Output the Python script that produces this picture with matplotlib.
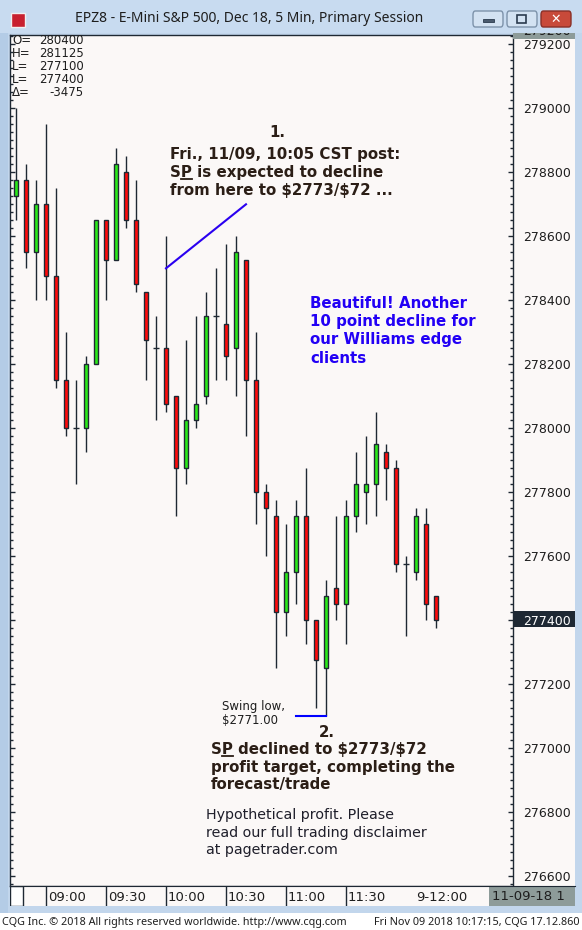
import numpy as np
import matplotlib.pyplot as plt
from matplotlib.patches import Rectangle, FancyBboxPatch
from matplotlib.lines import Line2D
from matplotlib.ticker import MultipleLocator

# E-Mini S&P 500 Dec 18, 5 min bars (price x 100)
opens  = [278725, 278775, 278550, 278700, 278475, 278150, 278000, 278000, 278200, 278650,
          278525, 278800, 278650, 278425, 278250, 278250, 278100, 277875, 278025, 278100,
          278350, 278325, 278250, 278525, 278150, 277800, 277725, 277425, 277550, 277725,
          277400, 277250, 277500, 277450, 277725, 277800, 277825, 277925, 277875, 277575,
          277550, 277700, 277475]
highs  = [279000, 278825, 278775, 278950, 278750, 278300, 278150, 278225, 278650, 278650,
          278875, 278850, 278775, 278425, 278350, 278600, 278100, 278275, 278350, 278425,
          278500, 278575, 278600, 278525, 278300, 277825, 277775, 277700, 277775, 277875,
          277400, 277525, 277725, 277775, 277925, 277975, 278050, 277950, 277900, 277600,
          277750, 277750, 277475]
lows   = [278650, 278500, 278400, 278400, 278125, 277975, 277825, 277925, 278200, 278400,
          278525, 278625, 278425, 278150, 278025, 278050, 277725, 277825, 278000, 278075,
          278150, 278150, 278100, 277975, 277700, 277600, 277250, 277350, 277450, 277325,
          277125, 277100, 277400, 277325, 277675, 277700, 277725, 277775, 277550, 277350,
          277525, 277400, 277375]
closes = [278775, 278550, 278700, 278475, 278150, 278000, 278000, 278200, 278650, 278525,
          278825, 278650, 278450, 278275, 278250, 278075, 277875, 278025, 278075, 278350,
          278350, 278225, 278550, 278150, 277800, 277750, 277425, 277550, 277725, 277400,
          277275, 277475, 277450, 277725, 277825, 277825, 277950, 277875, 277575, 277575,
          277725, 277450, 277400]

price_ticks = list(range(276600, 279201, 200))
time_ticks = [3, 9, 15, 21, 27, 33]
time_labels = ["09:00", "09:30", "10:00", "10:30", "11:00", "11:30"]
day_tick, day_label = 39, "9-12:00"

stat_names = ["O=", "H=", "L=", "L=", "Δ="]
stat_values = ["280400", "281125", "277100", "277400", "-3475"]

last_price = 277400
forecast_line = ([15, 23], [278500, 278700])   # "expected to decline from here"
swing_line = ([28, 31], [277100, 277100])      # swing low 2771.00

W, H = 582, 930
BG = '#FBF8F7'
DARK = '#1E2833'
FRAME = '#C2D6EC'


def fx(x):
    return x / W


def fy(y):
    return 1 - y / H


fig = plt.figure(figsize=(W / 100, H / 100), dpi=100)
fig.patch.set_facecolor(FRAME)

# window chrome
fig.add_artist(Rectangle((0, 0), 1, fy(913), transform=fig.transFigure,
                         facecolor='white', edgecolor='none', zorder=-2))
fig.add_artist(Rectangle((fx(0), fy(33)), 1, fy(0) - fy(33), transform=fig.transFigure,
                         facecolor='#C8DBF0', edgecolor='none', zorder=-2))
fig.add_artist(Rectangle((fx(0), fy(913)), fx(8), fy(33) - fy(913), transform=fig.transFigure,
                         facecolor='#B4CCE6', edgecolor='none', zorder=-2))
fig.add_artist(Rectangle((fx(513), fy(886)), fx(62), fy(35) - fy(886),
                         transform=fig.transFigure, facecolor=BG, edgecolor='none', zorder=-2))
# last price highlight
fig.add_artist(Rectangle((fx(514), fy(627)), fx(61), fy(611) - fy(627),
                         transform=fig.transFigure, facecolor=DARK, edgecolor='none', zorder=-1))

# title bar icon and buttons
fig.add_artist(Rectangle((fx(11), fy(27)), fx(14), fy(13) - fy(27), transform=fig.transFigure,
                         facecolor='#C8202F', edgecolor='#F0F0F0', lw=1))
for bx, face, edge in [(473, '#D3E2F2', '#7D92AA'), (507, '#D3E2F2', '#7D92AA'),
                       (541, '#C84A3A', '#8A3027')]:
    fig.add_artist(FancyBboxPatch((fx(bx), fy(27)), fx(30), fy(11) - fy(27),
                                  boxstyle='round,pad=0,rounding_size=0.004',
                                  transform=fig.transFigure, facecolor=face, edgecolor=edge, lw=1))
fig.add_artist(Rectangle((fx(483), fy(22)), fx(11), fy(19) - fy(22), transform=fig.transFigure,
                         facecolor='#4A5A6E', edgecolor='#2A3A4E', lw=0.6))
fig.add_artist(Rectangle((fx(517), fy(23)), fx(9), fy(15) - fy(23), transform=fig.transFigure,
                         facecolor='none', edgecolor='#2A3A4E', lw=1.2))
fig.text(fx(556), fy(19.5), '✕', color='white', fontsize=9, fontweight='bold',
         ha='center', va='center')
fig.text(fx(249), fy(19), 'EPZ8 - E-Mini S&P 500, Dec 18, 5 Min, Primary Session',
         family=['Noto Sans', 'DejaVu Sans'], fontsize=10, color='#1E1E1E',
         ha='center', va='center')

# main price panel
ax = fig.add_axes([fx(10), fy(886), fx(503), fy(35) - fy(886)])
ax.set_facecolor(BG)
ax.set_xlim(-0.6, 49.7)
ax.set_ylim(276570, 279229)

x = np.arange(len(opens))
o = np.array(opens)
c = np.array(closes)
ax.vlines(x, lows, highs, color=DARK, lw=1, zorder=2)
up = c > o
dn = c < o
ax.bar(x[up], (c - o)[up], bottom=o[up], width=0.45, color='#2BE81A',
       edgecolor=DARK, lw=1, zorder=3)
ax.bar(x[dn], (o - c)[dn], bottom=c[dn], width=0.45, color='#FF0A0A',
       edgecolor=DARK, lw=1, zorder=3)
doji = c == o
ax.hlines(o[doji], x[doji] - 0.28, x[doji] + 0.28, color=DARK, lw=1, zorder=3)

ax.plot(*forecast_line, color='#2A00F0', lw=1.5, zorder=4)
ax.plot(*swing_line, color='#0000FF', lw=1.5, zorder=4)

ax.yaxis.set_major_locator(plt.FixedLocator(price_ticks))
ax.yaxis.set_minor_locator(MultipleLocator(25))
ax.set_xticks([])
ax.tick_params(axis='y', which='both', direction='in', left=True, right=True,
               labelleft=False, labelright=True, color=DARK)
ax.tick_params(axis='y', which='major', length=3.8, width=1, pad=7.5,
               labelsize=9, labelcolor='#1E1E1E')
ax.tick_params(axis='y', which='minor', length=2, width=1)
for lab, val in zip(ax.get_yticklabels(), price_ticks):
    if val == last_price:
        lab.set_color('white')
for sp in ax.spines.values():
    sp.set_color(DARK)
    sp.set_linewidth(1)

# OHLC readout
for k, (nm, val) in enumerate(zip(stat_names, stat_values)):
    yy = 44 + 13 * k
    fig.text(fx(12), fy(yy), nm, fontsize=8.5, color='#1E1E1E', va='baseline')
    fig.text(fx(84), fy(yy), val, fontsize=8.5, color='#1E1E1E', va='baseline', ha='right')

# time axis strip
tx = fig.add_axes([fx(10), fy(906), fx(565), fy(886) - fy(906)])
tx.set_facecolor(BG)
tx.set_xlim(-0.6, 55.9)
tx.set_ylim(0, 1)
tx.set_xticks([])
tx.set_yticks([])
for sp in tx.spines.values():
    sp.set_visible(False)
tx.spines['top'].set_visible(True)
tx.spines['top'].set_color(DARK)
tx.vlines(time_ticks, 0, 1, color=DARK, lw=1)
for t, lab in zip(time_ticks, time_labels):
    tx.text(t + 0.2, 0.45, lab, fontsize=9.5, color='#1E1E1E', va='center')
tx.text(day_tick + 1.0, 0.45, day_label, fontsize=9.5, color='#1E1E1E', va='center')
tx.add_patch(Rectangle((-0.6, 0.0), 1.3, 1.0, facecolor='white', edgecolor=DARK, lw=1))
tx.add_patch(Rectangle((47.3, 0.0), 8.6, 1.0, facecolor='#8D9B99', edgecolor='none'))
tx.text(47.6, 0.5, '11-09-18 1', fontsize=9.5, color='#1E1E1E', va='center', clip_on=True)

# top clipped label strip (only the lower edge of the glyphs shows)
topax = fig.add_axes([fx(513), fy(39), fx(62), fy(33) - fy(39)])
topax.set_axis_off()
topax.add_patch(Rectangle((0, 0), 1, 1, transform=topax.transAxes,
                          facecolor='#8D9B99', edgecolor='none'))
topax.set_xlim(0, 1)
topax.set_ylim(0, 1)
topax.text(0.16, 0.1, '279200', fontsize=9, color='#1E1E1E', va='bottom', clip_on=True)

# annotations
TXT = '#2B1E16'


def lines(x0, base, dy, strings, **kw):
    out = []
    for k, s in enumerate(strings):
        out.append(fig.text(fx(x0), fy(base + dy * k), s, va='baseline', **kw))
    return out


bold = dict(fontsize=10.8, fontweight='bold', color=TXT)
fig.text(fx(277), fy(137), '1.', ha='center', va='baseline', **bold)
t1 = lines(170, 159, 18, ['Fri., 11/09, 10:05 CST post:',
                          'SP is expected to decline',
                          r'from here to \$2773/\$72 ...'], **bold)
lines(310, 308, 18.2, ['Beautiful! Another', '10 point decline for',
                       'our Williams edge', 'clients'],
      fontsize=10.8, fontweight='bold', color='#2200F5')
lines(222, 710, 14, ['Swing low,', r'\$2771.00'], fontsize=8.5, color='#1E1E1E')
fig.text(fx(327), fy(737), '2.', ha='center', va='baseline', **bold)
t2 = lines(211, 754, 17.7, [r'SP declined to \$2773/\$72',
                            'profit target, completing the',
                            'forecast/trade'], **bold)
lines(206, 819, 17.6, ['Hypothetical profit. Please',
                       'read our full trading disclaimer',
                       'at pagetrader.com'], fontsize=10.3, color='#1E1E2A')

# underline the "P" of SP
fig.canvas.draw()
rend = fig.canvas.get_renderer()
for t, base in [(t1[1], 159 + 18), (t2[0], 754)]:
    px0, _ = fig.transFigure.transform((t.get_position()[0], 0))
    tmp_s = fig.text(0, 0, 'S', **bold)
    tmp_sp = fig.text(0, 0, 'SP', **bold)
    ws = tmp_s.get_window_extent(rend).width
    wsp = tmp_sp.get_window_extent(rend).width
    tmp_s.remove()
    tmp_sp.remove()
    fig.add_artist(Line2D([fx(px0 + ws + 0.5), fx(px0 + wsp)], [fy(base + 2), fy(base + 2)],
                          transform=fig.transFigure, color=TXT, lw=1.3))

# status bar
fig.text(fx(2), fy(922), 'CQG Inc. © 2018 All rights reserved worldwide. http://www.cqg.com',
         family=['Noto Sans', 'DejaVu Sans'], fontsize=7.8, color='#1E1E1E', va='center')
fig.text(fx(580), fy(922), 'Fri Nov 09 2018 10:17:15, CQG 17.12.860',
         family=['Noto Sans', 'DejaVu Sans'], fontsize=7.8, color='#1E1E1E',
         va='center', ha='right')

fig.savefig('out.png', dpi=100, facecolor=fig.get_facecolor())
